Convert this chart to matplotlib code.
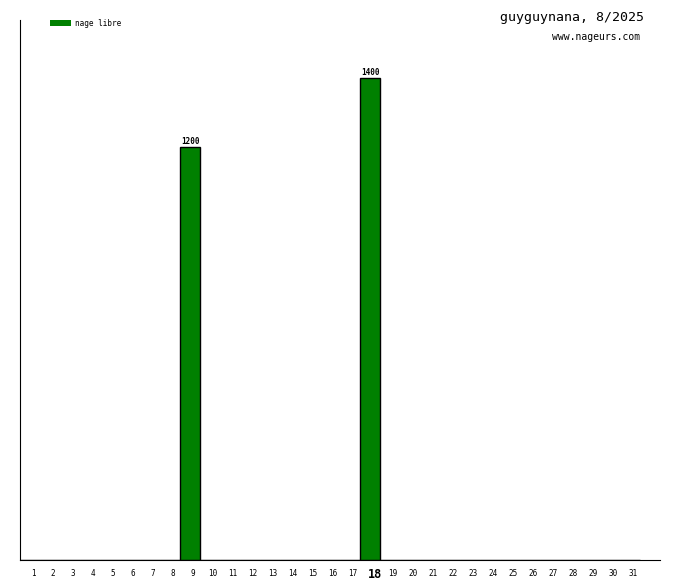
#!/usr/bin/env python3

import matplotlib
matplotlib.use("Agg")
import matplotlib.pyplot as plt
from matplotlib.patches import Rectangle

# Monthly swim distances (metres) per day of August 2025
days = list(range(1, 32))
distances = [0] * 31
distances[9 - 1] = 1200
distances[18 - 1] = 1400
today = 18

title = "guyguynana, 8/2025"
site = "www.nageurs.com"
legend_label = "nage libre"
bar_color = "#008000"

W, H = 680, 580
fig = plt.figure(figsize=(W / 100, H / 100), dpi=100)
ax = fig.add_axes([20 / W, 20 / H, 640 / W, 540 / H])

# each day takes a 20px slot, bar fills the slot
ax.bar(days, distances, width=1.0, color=bar_color, edgecolor="black", linewidth=1)
for d, v in zip(days, distances):
    if v > 0:
        ax.text(d, v + 3, str(v), ha="center", va="bottom", fontsize=5.5,
                family="DejaVu Sans Mono", fontweight="bold")

ax.set_xlim(0.5, 32.5)
ax.set_ylim(0, 1570)
ax.set_yticks([])
ax.set_xticks([])
ax.spines["top"].set_visible(False)
ax.spines["right"].set_visible(False)

# day labels under the axis, slightly right of the slot centre like the original
xt = ax.get_xaxis_transform()
for d in days:
    if d == today:
        ax.text(d + 0.25, -14 / 540, str(d), transform=xt, ha="center", va="center",
                fontsize=8.5, fontweight="bold", family="DejaVu Sans Mono")
    else:
        ax.text(d + 0.15, -14 / 540, str(d), transform=xt, ha="center", va="center",
                fontsize=5.5, family="DejaVu Sans Mono")

# legend in the top-left corner
fig.patches.append(Rectangle((50 / W, 1 - 26 / H), 21 / W, 6 / H, transform=fig.transFigure,
                             facecolor=bar_color, edgecolor="none"))
fig.text(75 / W, 1 - 23 / H, legend_label, fontsize=5.5, family="DejaVu Sans Mono",
         va="center", ha="left")

fig.text(644 / W, 1 - 18 / H, title, fontsize=9.5, family="DejaVu Sans Mono",
         va="center", ha="right")
fig.text(640 / W, 1 - 37 / H, site, fontsize=7, family="DejaVu Sans Mono",
         va="center", ha="right")

fig.savefig("out.png", dpi=100)
